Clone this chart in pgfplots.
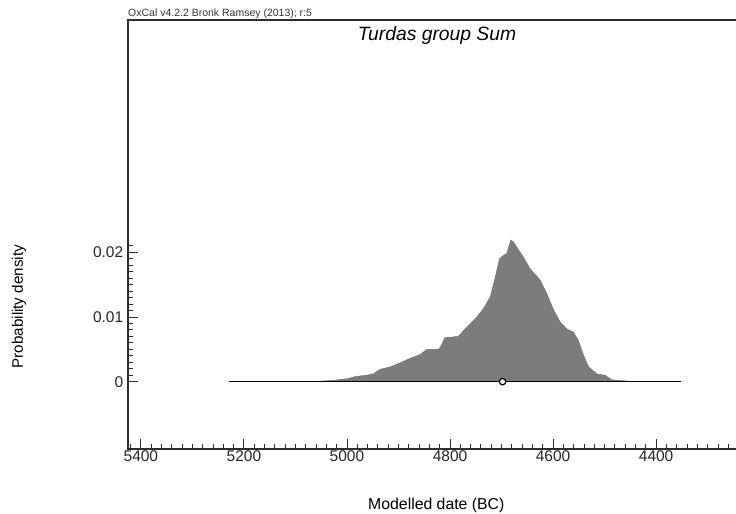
\documentclass[border=0pt]{standalone}
\usepackage{pgfplots}
\pgfplotsset{compat=1.18}
\usepackage{fontspec}
\setmainfont{Liberation Sans}
\definecolor{densfill}{RGB}{124,124,124}
\definecolor{axisdark}{RGB}{45,45,45}
\definecolor{baseline}{RGB}{150,150,150}

\begin{document}
\begin{tikzpicture}
\clip (-128bp,-64.7bp) rectangle (608bp,449.3bp);
\begin{axis}[
  name=ax, at={(0,0)}, anchor=south west,
  scale only axis, width=608bp, height=429.3bp,
  x dir=reverse,
  xmin=4245, xmax=5425, ymin=-0.01045, ymax=0.0559,
  axis line style={draw=none},
  xtick={4400,4600,4800,5000,5200,5400},
  xticklabels={4400,4600,4800,5000,5200,5400},
  minor xtick={4260,4280,4300,4320,4340,4360,4380,4420,4440,4460,4480,4500,4520,4540,4560,4580,4620,4640,4660,4680,4700,4720,4740,4760,4780,4820,4840,4860,4880,4900,4920,4940,4960,4980,5020,5040,5060,5080,5100,5120,5140,5160,5180,5220,5240,5260,5280,5300,5320,5340,5360,5380,5420},
  ytick={0,0.01,0.02},
  yticklabels={0,0.01,0.02},
  scaled y ticks=false,
  minor ytick={0.001,0.002,0.003,0.004,0.005,0.006,0.007,0.008,0.009,0.011,0.012,0.013,0.014,0.015,0.016,0.017,0.018,0.019,0.021},
  xtick pos=bottom, ytick pos=left,
  tick align=inside,
  major tick length=10bp, minor tick length=5.5bp,
  tick style={axisdark, line width=0.9bp},
  ticklabel style={font=\fontsize{15.5bp}{18bp}\selectfont, text=black!85},
  xticklabel style={yshift=2.5bp},
  yticklabel style={xshift=-1.3bp},
  clip=false,
]
% summed probability distribution
\addplot[fill=densfill, draw=densfill!90!black, line width=0.4bp] coordinates {
  (5080,0) (5065,0.00003) (5027,0.0002) (4997,0.0005) (4984,0.0008)
  (4962,0.0010) (4949,0.0012) (4936,0.0019) (4916,0.0023) (4897,0.0029)
  (4878,0.0036) (4858,0.0042) (4845,0.0050) (4823,0.0050) (4819,0.0053)
  (4810,0.0068) (4784,0.0070) (4768,0.0084) (4748,0.0100) (4735,0.0113)
  (4722,0.0131) (4713,0.0159) (4704,0.0190) (4697,0.0195) (4690,0.0198)
  (4682,0.0219) (4677,0.0216) (4658,0.0193) (4645,0.0175) (4625,0.0157)
  (4612,0.0136) (4599,0.0111) (4586,0.0092) (4573,0.0081) (4561,0.0077)
  (4551,0.0064) (4541,0.0041) (4531,0.0023) (4515,0.0012) (4499,0.0010)
  (4486,0.0003) (4457,0.0001) (4431,0)
} \closedcycle;
% baseline of the distribution
\addplot[baseline, line width=0.8bp] coordinates {(5229,0) (4351,0)};
% mean marker
\addplot[only marks, mark=*, mark size=3.2bp,
  mark options={fill=white, draw=black, line width=1.2bp}] coordinates {(4698,0)};
\end{axis}
% axis frame: left, top and bottom
\draw[axisdark, line width=1.6bp] (ax.south east) -- (ax.south west) -- (ax.north west) -- (ax.north east);
\node[anchor=base west, inner sep=0, font=\fontsize{10.5bp}{12bp}\selectfont, text=black!80] at (0bp,432.5bp) {OxCal v4.2.2 Bronk Ramsey (2013); r:5};
\node[anchor=base, inner sep=0, font=\fontsize{19.3bp}{22bp}\selectfont\itshape] at (309bp,408.6bp) {Turdas group Sum};
\node[anchor=base, inner sep=0, font=\fontsize{15.8bp}{18bp}\selectfont] at (308.3bp,-60.5bp) {Modelled date (BC)};
\node[anchor=base, rotate=90, inner sep=0, font=\fontsize{15.2bp}{18bp}\selectfont] at (-105bp,142.6bp) {Probability density};
\end{tikzpicture}
\end{document}
